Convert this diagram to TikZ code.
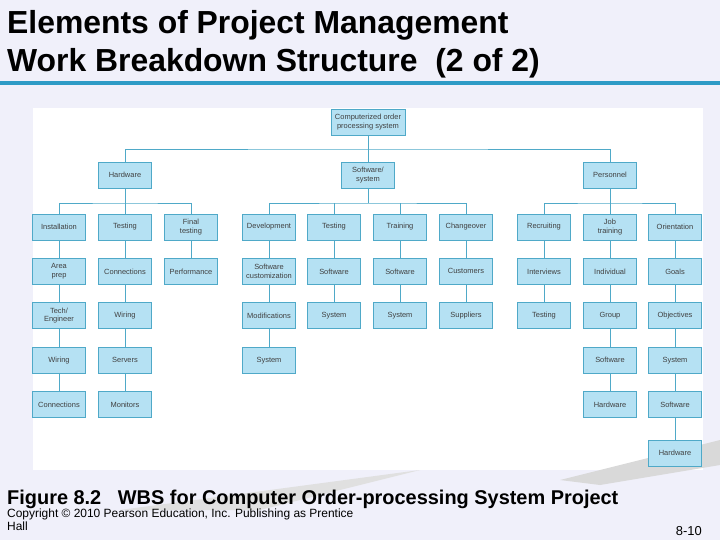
\documentclass[tikz,border=0pt]{standalone}
\usepackage{fontspec}
\setmainfont{Liberation Sans}
\begin{document}
\begin{tikzpicture}[x=1bp,y=-1bp,
  bx/.style={draw=lnc,fill=boxc,line width=0.8pt,minimum width=53bp,minimum height=26bp,inner sep=1pt,align=center,font=\fontsize{7.5}{8.5}\selectfont,text=black!75},
  ln/.style={draw=lnc,line width=0.9pt}]
\definecolor{boxc}{HTML}{B5E1F3}
\definecolor{lnc}{HTML}{4FA9C8}
\definecolor{bgc}{HTML}{F0F0FA}
\definecolor{barc}{HTML}{2E9BC6}
\useasboundingbox (0,0) rectangle (720,540);
\fill[bgc] (0,0) rectangle (720,540);
\fill[white] (33,108) rectangle (703,470);
\fill[black!15] (560,480) -- (720,440) -- (720,465) -- (600,485) -- cycle;
\fill[black!12] (120,510) -- (420,470) -- (260,510) -- cycle;
\fill[barc] (0,81) rectangle (720,85);
\node[anchor=base west,font=\fontsize{32}{36}\bfseries\selectfont,inner sep=0] (t1) at (7,34) {Elements of Project Management};
\node[anchor=base west,font=\fontsize{32}{36}\bfseries\selectfont,inner sep=0] (t2) at (7,72) {Work Breakdown Structure\ \ (2 of 2)};
\node[anchor=base west,font=\fontsize{20}{22}\bfseries\selectfont,inner sep=0] (cap) at (7,504) {Figure 8.2\ \ \ WBS for Computer Order-processing System Project};
\node[anchor=north west,align=left,font=\fontsize{12}{13}\selectfont,inner sep=0] (cp) at (7,509) {Copyright © 2010 Pearson Education, Inc. Publishing as Prentice\\Hall};
\node[anchor=base east,font=\fontsize{13}{15}\selectfont,inner sep=0] (pg) at (702,535) {8-10};
% top
\node[bx,minimum width=74bp] (top) at (368,122) {Computerized order\\processing system};
\node[bx] (hw) at (125,175) {Hardware};
\node[bx] (sw) at (368,175) {Software/\\system};
\node[bx] (pe) at (610,175) {Personnel};
\coordinate (j0) at (368,149);
\draw[ln] (top) -- (j0);
\draw[ln] (hw.north) |- (j0) -| (pe.north);
\draw[ln] (j0) -- (sw.north);
% level 2
\foreach \n/\x/\t in {a/59/Installation,b/125/Testing,c/191/{Final\\testing},d/269/Development,e/334/Testing,f/400/Training,g/466/Changeover,h/544/Recruiting,i/610/{Job\\training},j/675/Orientation}
  \node[bx] (\n1) at (\x,227) {\t};
\draw[ln] (hw.south) -- (b1.north);
\draw[ln] (a1.north) |- (125,203) -| (c1.north);
\draw[ln] (sw.south) -- (368,203);
\draw[ln] (d1.north) |- (368,203) -| (g1.north);
\draw[ln] (e1.north) -- (334,203); \draw[ln] (f1.north) -- (400,203);
\draw[ln] (pe.south) -- (i1.north);
\draw[ln] (h1.north) |- (610,203) -| (j1.north);
% columns
\foreach \c/\x/\items in {
  a/59/{Area\\prep,Tech/\\Engineer,Wiring,Connections},
  b/125/{Connections,Wiring,Servers,Monitors},
  c/191/{Performance},
  d/269/{Software\\customization,Modifications,System},
  e/334/{Software,System},
  f/400/{Software,System},
  g/466/{Customers,Suppliers},
  h/544/{Interviews,Testing},
  i/610/{Individual,Group,Software,Hardware},
  j/675/{Goals,Objectives,System,Software}}{
  \foreach \t [count=\k from 2] in \items {
    \pgfmathtruncatemacro{\pk}{\k-1}
    \node[bx] (\c\k) at (\x,{227+44.4*(\k-1)}) {\t};
    \draw[ln] (\c\pk.south) -- (\c\k.north);
  }
}
\node[bx] (j6) at (675,453) {Hardware};
\draw[ln] (j5.south) -- (j6.north);
\end{tikzpicture}
\end{document}
